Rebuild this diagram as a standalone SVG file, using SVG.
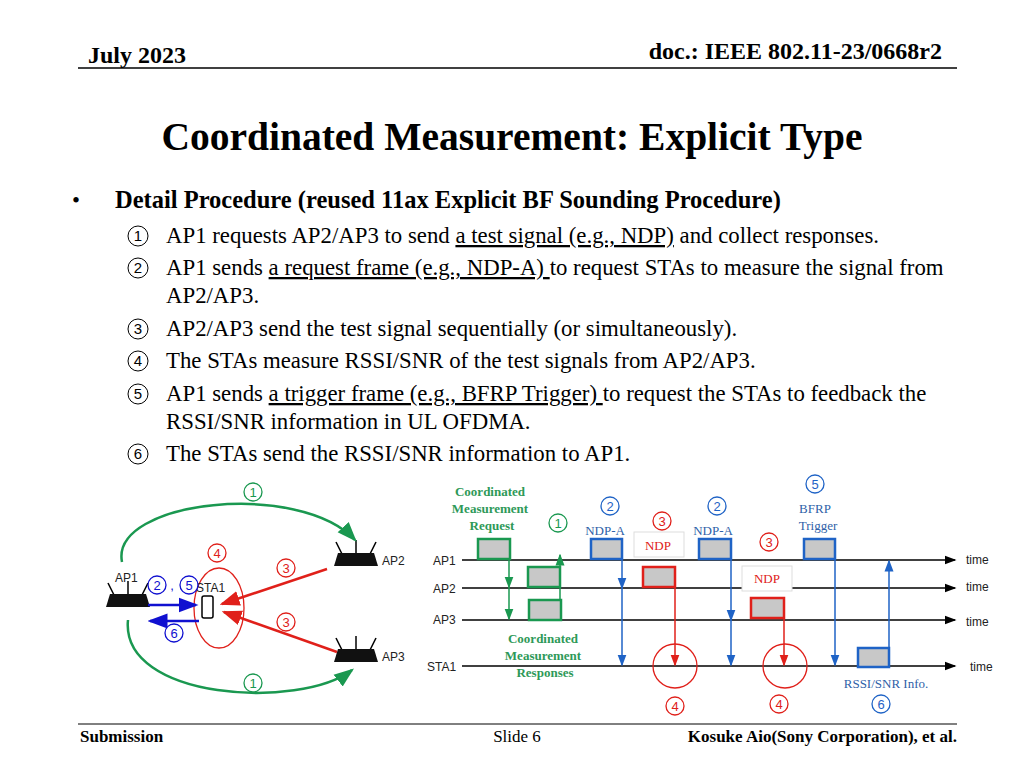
<svg xmlns="http://www.w3.org/2000/svg" width="1024" height="768" viewBox="0 0 1024 768">
<defs>
<style>
.t{font-family:"Liberation Serif","Times New Roman",serif;fill:#000}
.s{font-family:"Liberation Sans",sans-serif;font-size:12px;fill:#222}
.g{stroke:#1a9850;fill:none;stroke-width:2.5}
.gt{font-family:"Liberation Serif",serif;font-weight:bold;font-size:13px;fill:#2e9958;text-anchor:middle}
.bt{font-family:"Liberation Serif",serif;font-size:13px;fill:#2f5fa8;text-anchor:middle}
.rt{font-family:"Liberation Serif",serif;font-size:13px;fill:#e0201a;text-anchor:middle}
.ln{stroke:#000;stroke-width:1.5;marker-end:url(#ak)}
.bx{fill:#c8c8c8;stroke-width:2.5}
.cn{fill:#fff;stroke-width:1.3}
.cnt{font-family:"Liberation Sans",sans-serif;font-size:13px;text-anchor:middle}
.ci{fill:none;stroke:#000;stroke-width:1}
.cd{font-family:"Liberation Sans",sans-serif;font-size:15px;text-anchor:middle;fill:#000}
</style>
<marker id="ak" markerWidth="8" markerHeight="8" refX="7" refY="4" orient="auto"><path d="M0,1 L8,4 L0,7z" fill="#000"/></marker>
<marker id="ag" markerWidth="8" markerHeight="8" refX="7" refY="4" orient="auto"><path d="M0,1 L8,4 L0,7z" fill="#1a9850"/></marker>
<marker id="ab" markerWidth="8" markerHeight="8" refX="7" refY="4" orient="auto"><path d="M0,1 L8,4 L0,7z" fill="#1f63c6"/></marker>
<marker id="abb" markerWidth="8" markerHeight="8" refX="7" refY="4" orient="auto"><path d="M0,1 L8,4 L0,7z" fill="#1010d0"/></marker>
<marker id="ar" markerWidth="8" markerHeight="8" refX="7" refY="4" orient="auto"><path d="M0,1 L8,4 L0,7z" fill="#e0201a"/></marker>
<g id="router"><line x1="-14" y1="-2" x2="-20" y2="-14" stroke="#000" stroke-width="1.5"/><line x1="0" y1="-2" x2="0" y2="-16" stroke="#000" stroke-width="1.5"/><line x1="14" y1="-2" x2="20" y2="-14" stroke="#000" stroke-width="1.5"/><path d="M-18,-3 H18 L22,10 H-22z" fill="#111"/></g>
</defs>
<rect width="1024" height="768" fill="#fff"/>
<g id="header" font-family="Liberation Serif, serif">
<text class="t" x="88" y="63" font-size="24" font-weight="bold">July 2023</text>
<text class="t" x="942" y="59" font-size="24" font-weight="bold" text-anchor="end">doc.: IEEE 802.11-23/0668r2</text>
<line x1="78" y1="68" x2="957" y2="68" stroke="#000" stroke-width="1.3"/>
<text class="t" x="512" y="150" font-size="39.5" font-weight="bold" text-anchor="middle">Coordinated Measurement: Explicit Type</text>
</g>
<g id="body" font-family="Liberation Serif, serif" font-size="22.8">
<text class="t" x="72" y="208">•</text>
<text class="t" x="115" y="208" font-weight="bold" font-size="24.5">Detail Procedure (reused 11ax Explicit BF Sounding Procedure)</text>
<circle class="ci" cx="138" cy="236" r="10"/><text class="cd" x="138" y="241">1</text>
<circle class="ci" cx="138" cy="268" r="10"/><text class="cd" x="138" y="273">2</text>
<circle class="ci" cx="138" cy="329" r="10"/><text class="cd" x="138" y="334">3</text>
<circle class="ci" cx="138" cy="361" r="10"/><text class="cd" x="138" y="366">4</text>
<circle class="ci" cx="138" cy="394" r="10"/><text class="cd" x="138" y="399">5</text>
<circle class="ci" cx="138" cy="454" r="10"/><text class="cd" x="138" y="459">6</text>
<text class="t" x="166" y="243">AP1 requests AP2/AP3 to send <tspan text-decoration="underline">a test signal (e.g., NDP)</tspan> and collect responses.</text>
<text class="t" x="166" y="275">AP1 sends <tspan text-decoration="underline">a request frame (e.g., NDP-A) </tspan>to request STAs to measure the signal from</text>
<text class="t" x="166" y="303">AP2/AP3.</text>
<text class="t" x="166" y="336">AP2/AP3 send the test signal sequentially (or simultaneously).</text>
<text class="t" x="166" y="368">The STAs measure RSSI/SNR of the test signals from AP2/AP3.</text>
<text class="t" x="166" y="401">AP1 sends <tspan text-decoration="underline">a trigger frame (e.g., BFRP Trigger) </tspan>to request the STAs to feedback the</text>
<text class="t" x="166" y="429">RSSI/SNR information in UL OFDMA.</text>
<text class="t" x="166" y="461">The STAs send the RSSI/SNR information to AP1.</text>
</g>
<g id="left">
<use href="#router" x="128" y="597"/>
<use href="#router" x="356" y="556"/>
<use href="#router" x="356" y="652"/>
<rect x="202" y="596" width="11" height="22" rx="2" fill="#fff" stroke="#000" stroke-width="1.5"/>
<ellipse cx="219" cy="608" rx="25" ry="40" fill="none" stroke="#e0201a" stroke-width="1.3"/>
<text class="s" x="115" y="582">AP1</text><text class="s" x="196" y="592">STA1</text>
<text class="s" x="382" y="565">AP2</text><text class="s" x="382" y="661">AP3</text>
<path class="g" d="M122,562 C110,500 300,480 355,540" marker-end="url(#ag)"/>
<path class="g" d="M128,620 C120,700 300,710 352,670" marker-end="url(#ag)"/>
<line x1="327" y1="569" x2="222" y2="604" stroke="#e0201a" stroke-width="2.5" marker-end="url(#ar)"/>
<line x1="337" y1="652" x2="224" y2="612" stroke="#e0201a" stroke-width="2.5" marker-end="url(#ar)"/>
<line x1="148" y1="605" x2="196" y2="605" stroke="#1010d0" stroke-width="2.5" marker-end="url(#abb)"/>
<line x1="199" y1="621" x2="150" y2="621" stroke="#1010d0" stroke-width="2.5" marker-end="url(#abb)"/>
<circle class="cn" cx="253" cy="492" r="9" stroke="#1a9850"/><text class="cnt" x="253" y="497" fill="#1a9850">1</text>
<circle class="cn" cx="253" cy="683" r="9" stroke="#1a9850"/><text class="cnt" x="253" y="688" fill="#1a9850">1</text>
<circle class="cn" cx="217" cy="553" r="9" stroke="#e0201a"/><text class="cnt" x="217" y="558" fill="#e0201a">4</text>
<circle class="cn" cx="286" cy="568" r="9" stroke="#e0201a"/><text class="cnt" x="286" y="573" fill="#e0201a">3</text>
<circle class="cn" cx="286" cy="622" r="9" stroke="#e0201a"/><text class="cnt" x="286" y="627" fill="#e0201a">3</text>
<circle class="cn" cx="157" cy="585" r="9" stroke="#1010d0"/><text class="cnt" x="157" y="590" fill="#1010d0">2</text>
<text class="cnt" x="172" y="590" fill="#1010d0">,</text>
<circle class="cn" cx="189" cy="585" r="9" stroke="#1010d0"/><text class="cnt" x="189" y="590" fill="#1010d0">5</text>
<circle class="cn" cx="174" cy="633" r="9" stroke="#1010d0"/><text class="cnt" x="174" y="638" fill="#1010d0">6</text>
</g>
<g id="timeline">
<line class="ln" x1="462" y1="560" x2="955" y2="560"/>
<line class="ln" x1="462" y1="588" x2="955" y2="588"/>
<line class="ln" x1="462" y1="620" x2="955" y2="620"/>
<line class="ln" x1="462" y1="666" x2="955" y2="666"/>
<text class="s" x="433" y="565">AP1</text><text class="s" x="433" y="593">AP2</text><text class="s" x="433" y="624">AP3</text><text class="s" x="427" y="671">STA1</text>
<text class="s" x="966" y="564" font-size="13">time</text><text class="s" x="966" y="591" font-size="13">time</text><text class="s" x="966" y="626" font-size="13">time</text><text class="s" x="970" y="671" font-size="13">time</text>
<rect class="bx" x="478" y="539" width="32" height="20" stroke="#1a9850"/>
<rect class="bx" x="528" y="567" width="32" height="20" stroke="#1a9850"/>
<rect class="bx" x="529" y="600" width="32" height="20" stroke="#1a9850"/>
<line x1="509" y1="560" x2="509" y2="587" stroke="#1a9850" stroke-width="1.5" marker-end="url(#ag)"/>
<line x1="509" y1="587" x2="509" y2="619" stroke="#1a9850" stroke-width="1.5" marker-end="url(#ag)"/>
<line x1="560" y1="600" x2="560" y2="555" stroke="#1a9850" stroke-width="1.5" marker-end="url(#ag)"/>
<text class="gt" x="490" y="496">Coordinated</text><text class="gt" x="490" y="513">Measurement</text><text class="gt" x="492" y="530">Request</text>
<text class="gt" x="543" y="643">Coordinated</text><text class="gt" x="543" y="660">Measurement</text><text class="gt" x="545" y="677">Responses</text>
<rect class="bx" x="591" y="539" width="31" height="20" stroke="#1f63c6"/>
<rect class="bx" x="699" y="539" width="32" height="20" stroke="#1f63c6"/>
<rect class="bx" x="804" y="539" width="31" height="20" stroke="#1f63c6"/>
<rect class="bx" x="858" y="648" width="31" height="19" stroke="#1f63c6"/>
<line x1="622" y1="560" x2="622" y2="588" stroke="#1f63c6" stroke-width="1.5" marker-end="url(#ab)"/>
<line x1="622" y1="588" x2="622" y2="665" stroke="#1f63c6" stroke-width="1.5" marker-end="url(#ab)"/>
<line x1="731" y1="560" x2="731" y2="620" stroke="#1f63c6" stroke-width="1.5" marker-end="url(#ab)"/>
<line x1="731" y1="620" x2="731" y2="665" stroke="#1f63c6" stroke-width="1.5" marker-end="url(#ab)"/>
<line x1="835" y1="560" x2="835" y2="665" stroke="#1f63c6" stroke-width="1.5" marker-end="url(#ab)"/>
<line x1="889" y1="648" x2="889" y2="561" stroke="#1f63c6" stroke-width="1.5" marker-end="url(#ab)"/>
<rect x="634" y="532" width="50" height="25" fill="#fff" stroke="#ddd"/><text class="rt" x="658" y="550">NDP</text>
<rect x="742" y="566" width="50" height="25" fill="#fff" stroke="#ddd"/><text class="rt" x="767" y="583">NDP</text>
<rect class="bx" x="643" y="567" width="32" height="20" stroke="#e0201a"/>
<rect class="bx" x="751" y="598" width="33" height="20" stroke="#e0201a"/>
<line x1="675" y1="587" x2="675" y2="665" stroke="#e0201a" stroke-width="1.5" marker-end="url(#ar)"/>
<line x1="784" y1="618" x2="784" y2="665" stroke="#e0201a" stroke-width="1.5" marker-end="url(#ar)"/>
<circle cx="675" cy="666" r="22" fill="none" stroke="#e0201a" stroke-width="1.3"/>
<circle cx="785" cy="666" r="22" fill="none" stroke="#e0201a" stroke-width="1.3"/>
<text class="bt" x="605" y="535">NDP-A</text><text class="bt" x="713" y="535">NDP-A</text>
<text class="bt" x="815" y="513">BFRP</text><text class="bt" x="818" y="530">Trigger</text>
<text class="bt" x="886" y="688">RSSI/SNR Info.</text>
<circle class="cn" cx="558" cy="523" r="9" stroke="#1a9850"/><text class="cnt" x="558" y="528" fill="#1a9850">1</text>
<circle class="cn" cx="610" cy="506" r="9" stroke="#1f63c6"/><text class="cnt" x="610" y="511" fill="#1f63c6">2</text>
<circle class="cn" cx="717" cy="506" r="9" stroke="#1f63c6"/><text class="cnt" x="717" y="511" fill="#1f63c6">2</text>
<circle class="cn" cx="815" cy="484" r="9" stroke="#1f63c6"/><text class="cnt" x="815" y="489" fill="#1f63c6">5</text>
<circle class="cn" cx="881" cy="704" r="9" stroke="#1f63c6"/><text class="cnt" x="881" y="709" fill="#1f63c6">6</text>
<circle class="cn" cx="662" cy="521" r="9" stroke="#e0201a"/><text class="cnt" x="662" y="526" fill="#e0201a">3</text>
<circle class="cn" cx="769" cy="542" r="9" stroke="#e0201a"/><text class="cnt" x="769" y="547" fill="#e0201a">3</text>
<circle class="cn" cx="675" cy="706" r="9" stroke="#e0201a"/><text class="cnt" x="675" y="711" fill="#e0201a">4</text>
<circle class="cn" cx="779" cy="704" r="9" stroke="#e0201a"/><text class="cnt" x="779" y="709" fill="#e0201a">4</text>
</g>
<g id="footer">
<line x1="78" y1="724" x2="957" y2="724" stroke="#000" stroke-width="1"/>
<text class="t" x="80" y="742" font-size="17" font-weight="bold">Submission</text>
<text class="t" x="517" y="742" font-size="17" text-anchor="middle">Slide 6</text>
<text class="t" x="957" y="742" font-size="17" font-weight="bold" text-anchor="end">Kosuke Aio(Sony Corporation), et al.</text>
</g>
</svg>
